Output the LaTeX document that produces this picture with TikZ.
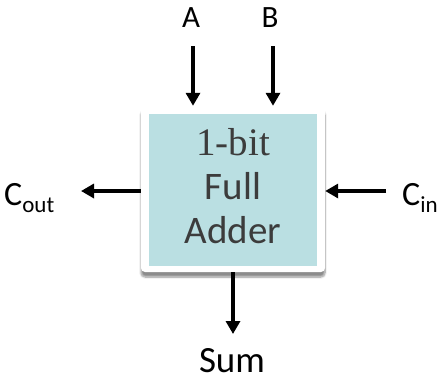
\documentclass[tikz,border=0pt]{standalone}
\usepackage{fontspec}
\setmainfont{Carlito}
\newfontfamily\boxserif{Liberation Serif}
\usetikzlibrary{arrows.meta,shadows.blur}
\definecolor{boxfill}{HTML}{BADFE2}
\definecolor{boxtext}{HTML}{3C3C3C}
\newcommand{\portsub}[1]{{\fontsize{23}{23}\selectfont\raisebox{-7pt}{#1}}}
\tikzset{
  sig/.style={line width=4pt,-{Triangle[length=13pt,width=14pt]}},
  lbl/.style={inner sep=0pt,anchor=base,font=\fontsize{31}{33}\selectfont},
  ttl/.style={inner sep=0pt,anchor=base,text=boxtext,font=\fontsize{39}{44}\selectfont},
}
\begin{document}
\begin{tikzpicture}[x=1pt,y=-1pt]
\useasboundingbox (0,0) rectangle (443,381);
% adder block: white frame with drop shadow, teal face
\node[draw=none,fill=white,rounded corners=4pt,minimum width=184pt,minimum height=166pt,
      blur shadow={shadow xshift=0pt,shadow yshift=-5pt,shadow blur steps=8,shadow opacity=45}]
  (frame) at (233,189) {};
\node[fill=boxfill,minimum width=168pt,minimum height=152pt,inner sep=0pt] (adder) at (233,190) {};
\node[ttl,font=\fontsize{39}{44}\boxserif] (t1) at (233,155) {1-bit};
\node[ttl] (t2) at (233,199) {Full};
\node[ttl] (t3) at (233,243) {Adder};
% ports
\node[lbl] (A) at (191,27) {A};
\node[lbl] (B) at (270,27) {B};
\node[lbl,anchor=base west,font=\fontsize{34}{36}\selectfont] (Cout) at (4,205) {C\portsub{out}};
\node[lbl,anchor=base west,font=\fontsize{34}{36}\selectfont] (Cin) at (402,205) {C\portsub{in}};
\node[lbl,font=\fontsize{37}{40}\selectfont] (Sum) at (232,372) {Sum};
\coordinate (aTop) at (193,46);
\coordinate (bTop) at (273,46);
\coordinate (coutEnd) at (81,191);
\coordinate (cinStart) at (386,191);
\coordinate (sumEnd) at (233,334);
% signal arrows
\draw[sig] (aTop) -- (aTop |- frame.north);
\draw[sig] (bTop) -- (bTop |- frame.north);
\draw[sig] (frame.west |- coutEnd) -- (coutEnd);
\draw[sig] (cinStart) -- (frame.east |- cinStart);
\draw[sig] (sumEnd |- frame.south) -- (sumEnd);
\end{tikzpicture}
\end{document}
